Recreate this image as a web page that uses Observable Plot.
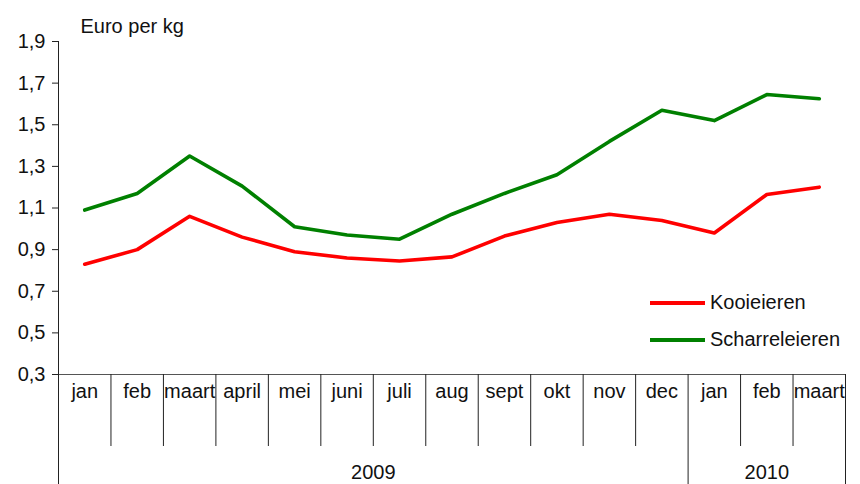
<!DOCTYPE html>
<html><head><meta charset="utf-8">
<script src="https://cdn.jsdelivr.net/npm/d3@7"></script>
<script src="https://cdn.jsdelivr.net/npm/@observablehq/plot@0.6"></script>
<style>
body{margin:0;background:#fff;font-family:"Liberation Sans",Arial,sans-serif;}
#wrap{position:relative;width:860px;height:484px;}
#legend{position:absolute;left:650px;top:284px;font-size:20px;color:#111;}
.item{display:flex;align-items:center;height:37px;}
.sw{width:55px;height:4px;margin-right:5px;}
</style></head><body><div id="wrap"><div id="legend"></div></div>
<script>
const months = ["jan","feb","maart","april","mei","juni","juli","aug","sept","okt","nov","dec","jan","feb","maart"];
const kooieieren = [0.83,0.90,1.06,0.96,0.89,0.86,0.845,0.865,0.965,1.03,1.07,1.04,0.98,1.165,1.20];
const scharreleieren = [1.09,1.17,1.35,1.205,1.01,0.97,0.95,1.07,1.17,1.26,1.42,1.57,1.52,1.645,1.625];
const years = ["2009","2010"];
const yearStart = [0,12];
const yearEnd = [12,15];
const yTicks = [0.3,0.5,0.7,0.9,1.1,1.3,1.5,1.7,1.9];
const seriesNames = ["Kooieieren","Scharreleieren"];
const seriesColors = ["#ff0000","#008000"];

const data = [];
months.forEach((m,i)=>{
  data.push({i, month:m, value:kooieieren[i], series:seriesNames[0]});
});
months.forEach((m,i)=>{
  data.push({i, month:m, value:scharreleieren[i], series:seriesNames[1]});
});
const n = months.length;
const yearBounds = [...yearStart, yearEnd[yearEnd.length-1]];
const minorBounds = d3.range(1, n).filter(b => !yearBounds.includes(b));

const chart = Plot.plot({
  width: 860, height: 484,
  marginLeft: 58, marginRight: 15, marginTop: 41, marginBottom: 110,
  style: {fontFamily: "Liberation Sans, Arial, sans-serif", fontSize: "20px", color: "#111", background: "#fff", overflow: "visible"},
  x: {domain: [0, n], axis: null},
  y: {domain: [0.3, 1.9], axis: null},
  color: {domain: seriesNames, range: seriesColors},
  marks: [
    Plot.axisY({ticks: yTicks, tickFormat: d => d.toFixed(1).replace(".", ","), tickSize: 6, tickPadding: 7, fontSize: 20, label: null, stroke: "#222"}),
    Plot.ruleX([0], {insetBottom: -110, stroke: "#222"}),
    Plot.ruleY([0.3], {stroke: "#555"}),
    Plot.axisX({ticks: minorBounds, tickSize: 72, tickFormat: () => "", label: null, stroke: "#222"}),
    Plot.axisX({ticks: yearBounds, tickSize: 110, tickFormat: () => "", label: null, stroke: "#222"}),
    Plot.line(data, {x: d => d.i + 0.5, y: "value", stroke: "series", strokeWidth: 3.6, z: "series"}),
    Plot.text(months, {x: (d,i) => i + 0.5, text: d => d, frameAnchor: "bottom", dy: 17, lineAnchor: "middle", fontSize: 20}),
    Plot.text(years, {x: (d,i) => (yearStart[i] + yearEnd[i]) / 2, text: d => d, frameAnchor: "bottom", dy: 98, lineAnchor: "middle", fontSize: 20}),
    Plot.text(["Euro per kg"], {frameAnchor: "top-left", dx: 22, dy: -15, textAnchor: "start", lineAnchor: "middle", fontSize: 20})
  ]
});
const wrap = document.getElementById("wrap");
wrap.insertBefore(chart, wrap.firstChild);
const legend = document.getElementById("legend");
seriesNames.forEach((s,i)=>{
  const it = document.createElement("div"); it.className = "item";
  const sw = document.createElement("div"); sw.className = "sw"; sw.style.background = seriesColors[i];
  const t = document.createElement("span"); t.textContent = s;
  it.appendChild(sw); it.appendChild(t); legend.appendChild(it);
});
</script></body></html>
